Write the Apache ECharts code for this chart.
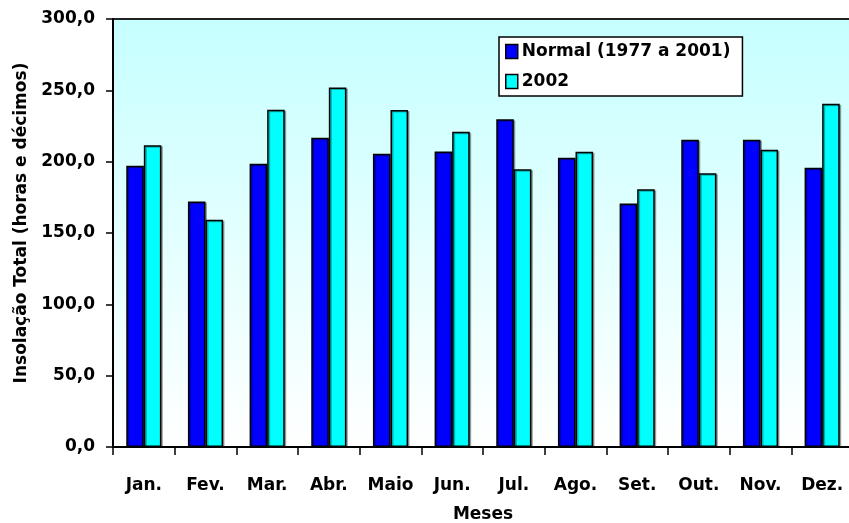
<!DOCTYPE html>
<html>
<head>
<meta charset="utf-8">
<script src="https://cdn.jsdelivr.net/npm/echarts@6/dist/echarts.min.js"></script>
<style>
html,body{margin:0;padding:0;background:#fff;}
#chart{width:849px;height:523px;}
</style>
</head>
<body>
<div id="chart"></div>
<script>
var months = ['Jan.', 'Fev.', 'Mar.', 'Abr.', 'Maio', 'Jun.', 'Jul.', 'Ago.', 'Set.', 'Out.', 'Nov.', 'Dez.'];
var normal = [197.2, 172.0, 198.6, 216.8, 205.6, 207.2, 229.7, 202.8, 170.6, 215.4, 215.4, 195.8];
var y2002 = [211.5, 159.3, 236.4, 251.9, 236.2, 221.0, 194.6, 207.0, 180.6, 191.8, 208.4, 240.6];
var seriesNames = ['Normal (1977 a 2001)', '2002'];
var yMin = 0, yMax = 300, yStep = 50;

var FONT = 'DejaVu Sans';
var chart = echarts.init(document.getElementById('chart'), null, {renderer: 'canvas'});
var barStyle = function (c) {
  return {
    color: c,
    borderColor: '#000',
    borderWidth: 1.5,
    shadowColor: 'rgba(0,0,0,0.3)',
    shadowOffsetX: 1.5,
    shadowOffsetY: 1,
    shadowBlur: 0
  };
};
chart.setOption({
  animation: false,
  backgroundColor: '#fff',
  grid: {
    left: 113, top: 19, width: 740, height: 428,
    outerBoundsMode: 'none',
    containLabel: false,
    show: true,
    borderColor: '#222',
    borderWidth: 2,
    backgroundColor: {
      type: 'linear', x: 0, y: 0, x2: 0, y2: 1,
      colorStops: [{offset: 0, color: '#C6FFFF'}, {offset: 1, color: '#FFFFFF'}]
    }
  },
  legend: {
    orient: 'vertical',
    left: 499, top: 37,
    data: seriesNames,
    icon: 'rect',
    itemWidth: 12, itemHeight: 14, itemGap: 13,
    padding: [6, 12, 6, 6],
    backgroundColor: '#fff',
    borderColor: '#000',
    borderWidth: 1.5,
    textStyle: {fontFamily: FONT, fontWeight: 'bold', fontSize: 17, color: '#000', padding: [0, 0, 0, -1]},
    itemStyle: {borderColor: '#000', borderWidth: 1.5}
  },
  xAxis: {
    type: 'category',
    data: months,
    name: 'Meses',
    nameLocation: 'middle',
    nameGap: 59,
    nameTextStyle: {fontFamily: FONT, fontWeight: 'bold', fontSize: 17, color: '#000'},
    axisLine: {lineStyle: {color: '#000', width: 2}},
    axisTick: {show: true, length: 8, lineStyle: {color: '#000', width: 1.5}},
    axisLabel: {fontFamily: FONT, fontWeight: 'bold', fontSize: 17, color: '#000', margin: 30},
    splitLine: {show: false}
  },
  yAxis: {
    type: 'value',
    min: yMin, max: yMax, interval: yStep,
    name: 'Insolação Total (horas e décimos)',
    nameLocation: 'middle',
    nameGap: 82,
    nameTextStyle: {fontFamily: FONT, fontWeight: 'bold', fontSize: 17, color: '#000', padding: [0, 0, 0, 20]},
    axisLine: {show: true, lineStyle: {color: '#000', width: 2}},
    axisTick: {show: true, length: 7, lineStyle: {color: '#000', width: 1.5}},
    axisLabel: {
      fontFamily: FONT, fontWeight: 'bold', fontSize: 17, color: '#000', margin: 18,
      formatter: function (v) { return v.toFixed(1).replace('.', ','); }
    },
    splitLine: {show: false}
  },
  series: [
    {name: seriesNames[0], type: 'bar', data: normal, barWidth: '28.5%', barGap: '0%', itemStyle: barStyle('#0000FF')},
    {name: seriesNames[1], type: 'bar', data: y2002, barWidth: '28.5%', barGap: '0%', itemStyle: barStyle('#00FFFF')}
  ]
});
</script>
</body>
</html>
